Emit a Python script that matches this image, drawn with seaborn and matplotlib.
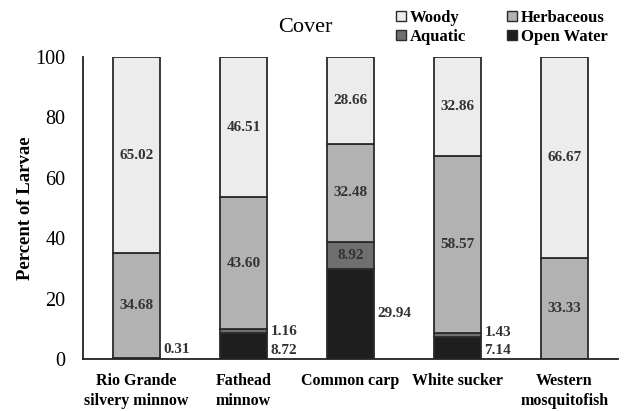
import matplotlib
matplotlib.use("Agg")
import matplotlib.pyplot as plt
from matplotlib.lines import Line2D
from matplotlib.ticker import FixedLocator
import seaborn as sns
import numpy as np
import pandas as pd

# ---- data ----
species = ["Rio Grande\nsilvery minnow", "Fathead\nminnow", "Common carp",
           "White sucker", "Western\nmosquitofish"]
woody = [65.02, 46.51, 28.66, 32.86, 66.67]
herbaceous = [34.68, 43.60, 32.48, 58.57, 33.33]
aquatic = [0.0, 1.16, 8.92, 1.43, 0.0]
open_water = [0.31, 8.72, 29.94, 7.14, 0.0]
yticks = [0, 20, 40, 60, 80, 100]

# ---- layout / style ----
colors = {"Woody": "#ececec", "Herbaceous": "#b2b2b2",
          "Aquatic": "#6f6f6f", "Open Water": "#1e1e1e"}
edge = "#2a2a2a"
bar_w = 0.435
# labels placed to the right of the bar: (species index, series) -> y position
right_label_y = {(0, "Open Water"): 3.0,
                 (1, "Aquatic"): 9.0, (1, "Open Water"): 2.7,
                 (2, "Open Water"): 15.0,
                 (3, "Aquatic"): 8.7, (3, "Open Water"): 2.7}

sns.set_theme(style="white")
plt.rcParams["font.family"] = ["Liberation Serif", "DejaVu Serif"]
plt.rcParams["text.color"] = "black"
plt.rcParams["axes.labelcolor"] = "black"
plt.rcParams["xtick.color"] = "black"
plt.rcParams["ytick.color"] = "black"

df = pd.DataFrame({"species": species, "Woody": woody, "Herbaceous": herbaceous,
                   "Aquatic": aquatic, "Open Water": open_water})

fig = plt.figure(figsize=(6.24, 4.11), dpi=100)
ax = fig.add_axes([83 / 624, 1 - 359 / 411, (618 - 83) / 624, (359 - 57) / 411])

stack_order = ["Open Water", "Aquatic", "Herbaceous", "Woody"]
bottom = np.zeros(len(species))
bottoms = {}
for s in stack_order:
    vals = df[s].to_numpy()
    bottoms[s] = bottom.copy()
    sns.barplot(data=df, x="species", y=s, order=species, bottom=bottom.copy(),
                color=colors[s], saturation=1, width=bar_w, edgecolor=edge,
                linewidth=1.3, ax=ax, errorbar=None)
    bottom = bottom + vals

# value labels
for s in stack_order:
    vals = df[s].to_numpy()
    for i, v in enumerate(vals):
        if v <= 0:
            continue
        txt = f"{v:.2f}"
        if (i, s) in right_label_y:
            ax.text(i + bar_w / 2 + 0.035, right_label_y[(i, s)], txt, ha="left",
                    va="center", fontsize=11, fontweight="bold", color="#333333")
        else:
            ax.text(i, bottoms[s][i] + v / 2, txt, ha="center", va="center",
                    fontsize=11, fontweight="bold", color="#333333")

ax.set_xlim(-0.5, len(species) - 0.5)
ax.set_ylim(0, 100)
ax.set_yticks(yticks)
ax.set_yticklabels([str(t) for t in yticks], fontsize=14.5)
ax.set_xticks(range(len(species)))
ax.set_xticklabels(species, fontsize=11.5, fontweight="bold", linespacing=1.35)
ax.xaxis.set_minor_locator(FixedLocator(np.arange(-0.5, len(species), 1.0)))
ax.tick_params(axis="x", which="major", length=0, pad=10)
ax.tick_params(axis="x", which="minor", direction="out", length=5, width=1.3,
               color="#222222")
ax.tick_params(axis="y", which="major", direction="inout", length=9, width=1.3,
               color="#222222", pad=8)
ax.set_xlabel("")
ax.set_ylabel("Percent of Larvae", fontsize=13.5, fontweight="bold")
ax.yaxis.set_label_coords(-0.092, 0.5)
for sp in ["top", "right"]:
    ax.spines[sp].set_visible(False)
for sp in ["left", "bottom"]:
    ax.spines[sp].set_color("#222222")
    ax.spines[sp].set_linewidth(1.3)

fig.text(305 / 624, 1 - 28 / 411, "Cover", ha="center", va="center", fontsize=16)

legend_order = ["Woody", "Aquatic", "Herbaceous", "Open Water"]
handles = [Line2D([], [], marker="s", linestyle="none", markersize=7,
                  markerfacecolor=colors[k], markeredgecolor=edge,
                  markeredgewidth=1.0, label=k) for k in legend_order]
fig.legend(handles=handles, ncol=2, loc="upper left",
           bbox_to_anchor=(383 / 624, 1.005), frameon=False,
           prop={"size": 12, "weight": "bold"}, handlelength=0.7,
           handletextpad=0.2, columnspacing=2.4, labelspacing=0.2,
           borderaxespad=0.3)

fig.savefig("out.png", dpi=100)
